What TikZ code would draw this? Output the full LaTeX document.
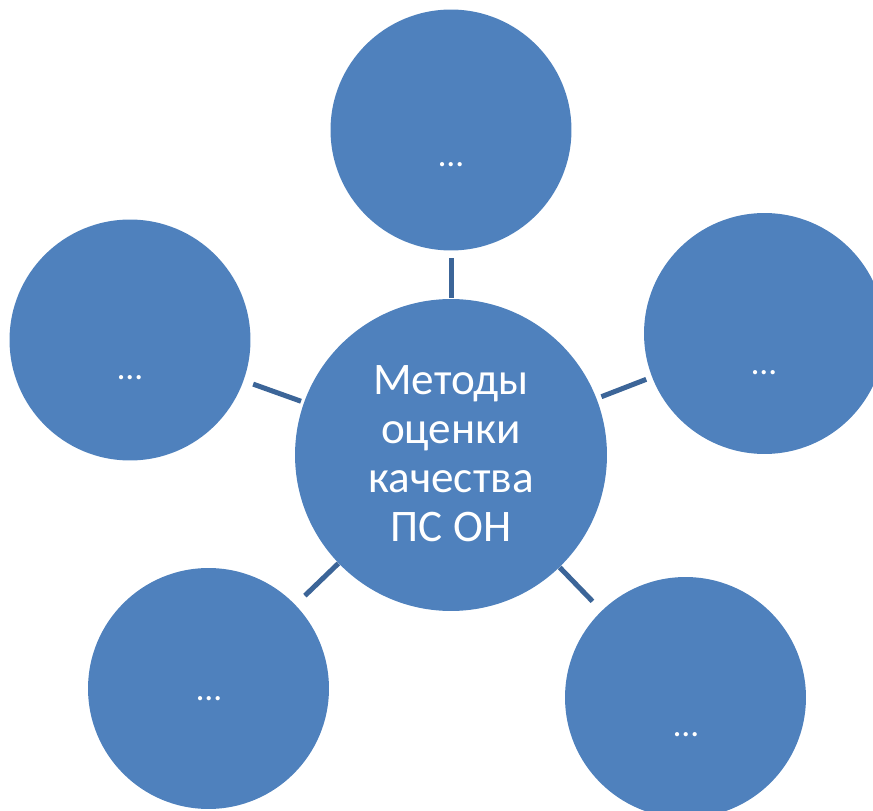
\documentclass[tikz,border=0pt]{standalone}
\usepackage{fontspec}
\setmainfont{Carlito}
\usepackage{xcolor}
\usepackage{tikz}
\usetikzlibrary{positioning}
\definecolor{bubbleblue}{HTML}{4F81BD}
\definecolor{linkblue}{HTML}{3C6598}

\begin{document}
\begin{tikzpicture}[
    x=0.02cm, y=-0.02cm,
    bubble/.style={
        circle, fill=bubbleblue, draw=none, minimum size=4.82cm, inner sep=0pt
    },
    core/.style={bubble, minimum size=6.24cm},
    coretext/.style={
        align=center, text=white, inner sep=0pt,
        font=\fontsize{25.7}{27.9}\selectfont
    },
    dots/.style={text=white, inner sep=0pt, anchor=base, font=\fontsize{20}{24}\selectfont},
    link/.style={draw=linkblue, line width=0.1cm}
]
    \clip (0,0) rectangle (873,811);

    \node[core] (center) at (451, 455) {};
    \node[coretext, anchor=north] (centertxt) at (451, 365)
        {Методы\\оценки\\качества\\ПС ОН};

    \node[bubble] (top) at (451, 130) {};
    \node[bubble] (left) at (130, 340) {};
    \node[bubble] (right) at (764.5, 333.5) {};
    \node[bubble] (botleft) at (208.5, 688.5) {};
    \node[bubble] (botright) at (685.5, 697.5) {};

    \node[dots] (toptxt) at (451, 167) {…};
    \node[dots] (lefttxt) at (130, 379) {…};
    \node[dots] (righttxt) at (764, 374) {…};
    \node[dots] (botlefttxt) at (209, 700) {…};
    \node[dots] (botrighttxt) at (686, 736) {…};

    \draw[link, shorten <=0.02cm, shorten >=0.14cm] (center) -- (top);
    \draw[link, shorten <=0.06cm, shorten >=0.2cm] (center) -- (left);
    \draw[link, shorten <=0.1cm, shorten >=0.12cm] (center) -- (right);
    \draw[link, shorten >=0.26cm] (center) -- (botleft);
    \draw[link, shorten >=0.26cm] (center) -- (botright);
\end{tikzpicture}
\end{document}
